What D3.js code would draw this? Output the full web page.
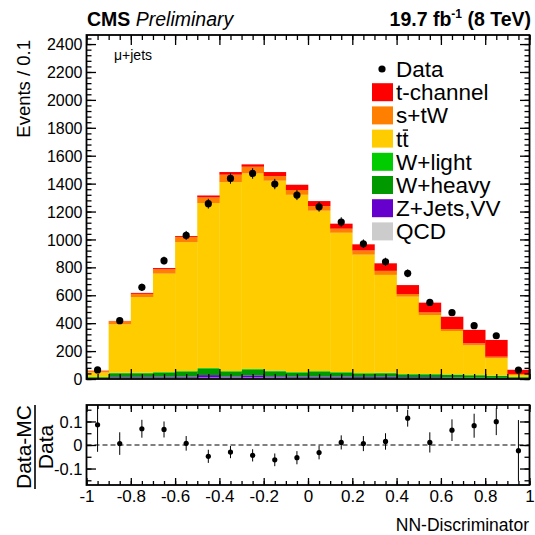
<!DOCTYPE html>
<html>
<head>
<meta charset="utf-8">
<script src="https://cdn.jsdelivr.net/npm/d3@7"></script>
<style>
  html, body { margin: 0; padding: 0; background: #fff; }
  svg { display: block; font-family: "Liberation Sans", Arial, Helvetica, sans-serif; }
</style>
</head>
<body>
<svg id="chart" width="535" height="535"></svg>
<script>
// ---------------- DATA ----------------
const binEdges = [-1, -0.9, -0.8, -0.7, -0.6, -0.5, -0.4, -0.3, -0.2, -0.1, 0, 0.1, 0.2, 0.3, 0.4, 0.5, 0.6, 0.7, 0.8, 0.9, 1];
const seriesNames = ["QCD", "Z+Jets,VV", "W+heavy", "W+light", "tt", "s+tW", "t-channel"];
const qcd      = [3, 9, 9, 9, 9, 10, 10, 10, 10, 9, 9, 9, 8, 8, 7, 7, 6, 5, 4, 3];
const zjetsVV  = [2, 6, 6, 7, 8, 18, 8, 16, 9, 8, 8, 8, 7, 8, 6, 6, 5, 4, 4, 2];
const wheavy   = [8, 26, 26, 30, 35, 45, 34, 40, 36, 29, 35, 29, 24, 25, 20, 20, 19, 17, 14, 8];
const wlight   = [2, 4, 4, 4, 5, 6, 5, 6, 5, 4, 5, 4, 4, 4, 3, 3, 3, 3, 2, 2];
const ttbar    = [32, 347, 542, 705, 924, 1182, 1354, 1401, 1361, 1270, 1149, 998, 848, 701, 554, 422, 311, 212, 126, 14];
const stw      = [11, 22, 23, 31, 36, 40, 53, 48, 33, 34, 33, 29, 30, 29, 19, 19, 14, 15, 10, 7];
const tchannel = [2, 2, 7, 9, 7, 14, 19, 17, 29, 38, 36, 36, 44, 54, 64, 70, 88, 96, 120, 30];
const dataVals = [65, 418, 657, 848, 1029, 1256, 1437, 1473, 1397, 1318, 1234, 1125, 969, 840, 757, 549, 475, 382, 310, 64];
const dataErr  = [8, 20, 26, 29, 32, 35, 38, 38, 37, 36, 35, 34, 31, 29, 28, 23, 22, 20, 18, 8];
const ratioVals = [0.086, 0.006, 0.069, 0.066, 0.007, -0.048, -0.030, -0.044, -0.063, -0.054, -0.032, 0.011, 0.006, 0.015, 0.114, 0.011, 0.063, 0.082, 0.099, -0.024];
const ratioErr  = [0.115, 0.048, 0.038, 0.034, 0.031, 0.028, 0.026, 0.026, 0.027, 0.028, 0.029, 0.030, 0.032, 0.035, 0.036, 0.043, 0.046, 0.051, 0.057, 0.13];
const mainYTicks = [0, 200, 400, 600, 800, 1000, 1200, 1400, 1600, 1800, 2000, 2200, 2400];
const xTickLabels = [-1, -0.8, -0.6, -0.4, -0.2, 0, 0.2, 0.4, 0.6, 0.8, 1];
const ratioYTicks = [-0.1, 0, 0.1];
const legendLabels = ["Data", "t-channel", "s+tW", "tt", "W+light", "W+heavy", "Z+Jets,VV", "QCD"];

// ---------------- STYLE ----------------
const colors = {
  "QCD": "#cccccc", "Z+Jets,VV": "#6600cc", "W+heavy": "#009900", "W+light": "#00cc00",
  "tt": "#ffcc00", "s+tW": "#ff7f00", "t-channel": "#ff0000"
};
const L = 86.5, R = 529.5;
const mainTop = 35, mainBot = 379;
const ratTop = 405, ratBot = 485;
const fmt = d => String(d);   // ROOT style: plain hyphen minus

const svg = d3.select("#chart");

const x = d3.scaleLinear().domain([-1, 1]).range([L, R]);
const y = d3.scaleLinear().domain([0, 2465]).range([mainBot, mainTop]);
const yr = d3.scaleLinear().domain([-0.17, 0.17]).range([ratBot, ratTop]);

// stacked table
const table = binEdges.slice(0, -1).map((lo, i) => ({
  lo, hi: binEdges[i + 1],
  "QCD": qcd[i], "Z+Jets,VV": zjetsVV[i], "W+heavy": wheavy[i], "W+light": wlight[i],
  "tt": ttbar[i], "s+tW": stw[i], "t-channel": tchannel[i]
}));
const stacked = d3.stack().keys(seriesNames)(table);

const gBars = svg.append("g");
stacked.forEach(layer => {
  gBars.selectAll(null).data(layer).enter().append("rect")
    .attr("x", d => x(d.data.lo))
    .attr("width", d => x(d.data.hi) - x(d.data.lo) + 0.3)
    .attr("y", d => y(d[1]))
    .attr("height", d => Math.max(0, y(d[0]) - y(d[1])))
    .attr("fill", colors[layer.key]);
});

// data points
const centers = table.map(d => (d.lo + d.hi) / 2);
const gData = svg.append("g");
centers.forEach((c, i) => {
  gData.append("line").attr("x1", x(c)).attr("x2", x(c))
    .attr("y1", y(dataVals[i] - dataErr[i])).attr("y2", y(dataVals[i] + dataErr[i]))
    .attr("stroke", "#000").attr("stroke-width", 1);
  gData.append("circle").attr("cx", x(c)).attr("cy", y(dataVals[i])).attr("r", 3.6).attr("fill", "#000");
});

// ---------------- AXES helper ----------------
function styleAxis(g) {
  g.select(".domain").remove();
  g.selectAll(".tick line").attr("stroke", "#000").attr("stroke-width", 1.3);
  g.selectAll(".tick text").attr("fill", "#000");
}
function minorVals(lo, hi, step) {
  const out = [];
  for (let v = lo; v <= hi + 1e-9; v += step) out.push(+v.toFixed(6));
  return out;
}

// main panel ticks
const yMinor = minorVals(0, 2440, 40);
const xMinor = minorVals(-1, 1, 0.05);
const xMajor = xTickLabels;

svg.append("g").attr("transform", `translate(${L},0)`)
  .call(d3.axisLeft(y).tickValues(yMinor).tickSize(-5).tickFormat("")).call(styleAxis);
svg.append("g").attr("transform", `translate(${L},0)`)
  .call(d3.axisLeft(y).tickValues(mainYTicks).tickSize(-9.5).tickPadding(4).tickFormat(fmt))
  .call(styleAxis)
  .selectAll("text").attr("font-size", 16).attr("dy", "0.35em");
svg.append("g").attr("transform", `translate(${R},0)`)
  .call(d3.axisRight(y).tickValues(yMinor).tickSize(-5).tickFormat("")).call(styleAxis);
svg.append("g").attr("transform", `translate(${R},0)`)
  .call(d3.axisRight(y).tickValues(mainYTicks).tickSize(-9.5).tickFormat("")).call(styleAxis);

svg.append("g").attr("transform", `translate(0,${mainBot})`)
  .call(d3.axisBottom(x).tickValues(xMinor).tickSize(-5).tickFormat("")).call(styleAxis);
svg.append("g").attr("transform", `translate(0,${mainBot})`)
  .call(d3.axisBottom(x).tickValues(xMajor).tickSize(-10).tickFormat("")).call(styleAxis);
svg.append("g").attr("transform", `translate(0,${mainTop})`)
  .call(d3.axisTop(x).tickValues(xMinor).tickSize(-5).tickFormat("")).call(styleAxis);
svg.append("g").attr("transform", `translate(0,${mainTop})`)
  .call(d3.axisTop(x).tickValues(xMajor).tickSize(-10).tickFormat("")).call(styleAxis);

svg.append("rect").attr("x", L).attr("y", mainTop).attr("width", R - L).attr("height", mainBot - mainTop)
  .attr("fill", "none").attr("stroke", "#000").attr("stroke-width", 1.8);

// ---------------- RATIO PANEL ----------------
svg.append("line").attr("x1", L).attr("x2", R).attr("y1", yr(0)).attr("y2", yr(0))
  .attr("stroke", "#000").attr("stroke-width", 1).attr("stroke-dasharray", "5,3");

const gR = svg.append("g");
centers.forEach((c, i) => {
  const top = Math.min(ratioVals[i] + ratioErr[i], 0.17);
  const bot = Math.max(ratioVals[i] - ratioErr[i], -0.17);
  gR.append("line").attr("x1", x(c)).attr("x2", x(c))
    .attr("y1", yr(bot)).attr("y2", yr(top))
    .attr("stroke", "#000").attr("stroke-width", 1);
  gR.append("circle").attr("cx", x(c)).attr("cy", yr(ratioVals[i])).attr("r", 2.6).attr("fill", "#000");
});

const ryMinor = minorVals(-0.15, 0.15, 0.05);
svg.append("g").attr("transform", `translate(${L},0)`)
  .call(d3.axisLeft(yr).tickValues(ryMinor).tickSize(-5).tickFormat("")).call(styleAxis);
svg.append("g").attr("transform", `translate(${L},0)`)
  .call(d3.axisLeft(yr).tickValues(ratioYTicks).tickSize(-9.5).tickPadding(4).tickFormat(fmt))
  .call(styleAxis)
  .selectAll("text").attr("font-size", 16.5).attr("dy", "0.35em");
svg.append("g").attr("transform", `translate(${R},0)`)
  .call(d3.axisRight(yr).tickValues(ryMinor).tickSize(-5).tickFormat("")).call(styleAxis);
svg.append("g").attr("transform", `translate(${R},0)`)
  .call(d3.axisRight(yr).tickValues(ratioYTicks).tickSize(-9.5).tickFormat("")).call(styleAxis);

svg.append("g").attr("transform", `translate(0,${ratBot})`)
  .call(d3.axisBottom(x).tickValues(xMinor).tickSize(-4).tickFormat("")).call(styleAxis);
svg.append("g").attr("transform", `translate(0,${ratBot})`)
  .call(d3.axisBottom(x).tickValues(xMajor).tickSize(-7).tickPadding(0).tickFormat(fmt))
  .call(styleAxis)
  .selectAll("text").attr("font-size", 17).attr("dy", "0.71em").attr("transform", "translate(0,5)");
svg.append("g").attr("transform", `translate(0,${ratTop})`)
  .call(d3.axisTop(x).tickValues(xMinor).tickSize(-4).tickFormat("")).call(styleAxis);
svg.append("g").attr("transform", `translate(0,${ratTop})`)
  .call(d3.axisTop(x).tickValues(xMajor).tickSize(-7).tickFormat("")).call(styleAxis);

svg.append("rect").attr("x", L).attr("y", ratTop).attr("width", R - L).attr("height", ratBot - ratTop)
  .attr("fill", "none").attr("stroke", "#000").attr("stroke-width", 1.8);

// ---------------- TEXTS ----------------
const hdr = svg.append("text").attr("x", 87).attr("y", 26).attr("font-size", 19.5);
hdr.append("tspan").attr("font-weight", "bold").text("CMS");
hdr.append("tspan").attr("font-style", "italic").text(" Preliminary");

const lumi = svg.append("text").attr("x", 531).attr("y", 26).attr("font-size", 19.5)
  .attr("font-weight", "bold").attr("text-anchor", "end");
lumi.append("tspan").text("19.7 fb");
lumi.append("tspan").attr("font-size", 12).attr("dy", -8).text("-1");
lumi.append("tspan").attr("dy", 8).text(" (8 TeV)");

svg.append("text").attr("x", 114).attr("y", 60).attr("font-size", 14).text("\u03bc+jets");

svg.append("text").attr("transform", "translate(30,40) rotate(-90)")
  .attr("text-anchor", "end").attr("font-size", 18.5).text("Events / 0.1");

// ratio y label as fraction
const fy = 447;
svg.append("text").attr("transform", `translate(31,${fy}) rotate(-90)`)
  .attr("text-anchor", "middle").attr("font-size", 21).text("Data-MC");
svg.append("line").attr("x1", 35).attr("x2", 35).attr("y1", fy - 42).attr("y2", fy + 42)
  .attr("stroke", "#000").attr("stroke-width", 1.6);
svg.append("text").attr("transform", `translate(53,${fy}) rotate(-90)`)
  .attr("text-anchor", "middle").attr("font-size", 21).text("Data");

svg.append("text").attr("x", 529).attr("y", 531).attr("text-anchor", "end")
  .attr("font-size", 17.5).text("NN-Discriminator");

// ---------------- LEGEND ----------------
const legY0 = 69, legDY = 23.2;
const lg = svg.append("g");
legendLabels.forEach((lab, i) => {
  const cy = legY0 + i * legDY;
  if (i === 0) {
    lg.append("circle").attr("cx", 382).attr("cy", cy).attr("r", 3.6).attr("fill", "#000");
  } else {
    lg.append("rect").attr("x", 372).attr("y", cy - 9).attr("width", 21).attr("height", 18)
      .attr("fill", colors[lab]);
  }
  const t = lg.append("text").attr("x", 396).attr("y", cy + 8).attr("font-size", 22.5).text(lab);
  if (lab === "tt") {
    const node = t.node();
    const x1 = 396 + node.getSubStringLength(0, 1);
    const x2 = 396 + node.getSubStringLength(0, 2);
    lg.append("line").attr("x1", x1 + 0.5).attr("x2", x2 - 0.5).attr("y1", cy - 8.5).attr("y2", cy - 8.5)
      .attr("stroke", "#000").attr("stroke-width", 1.4);
  }
});
</script>
</body>
</html>
